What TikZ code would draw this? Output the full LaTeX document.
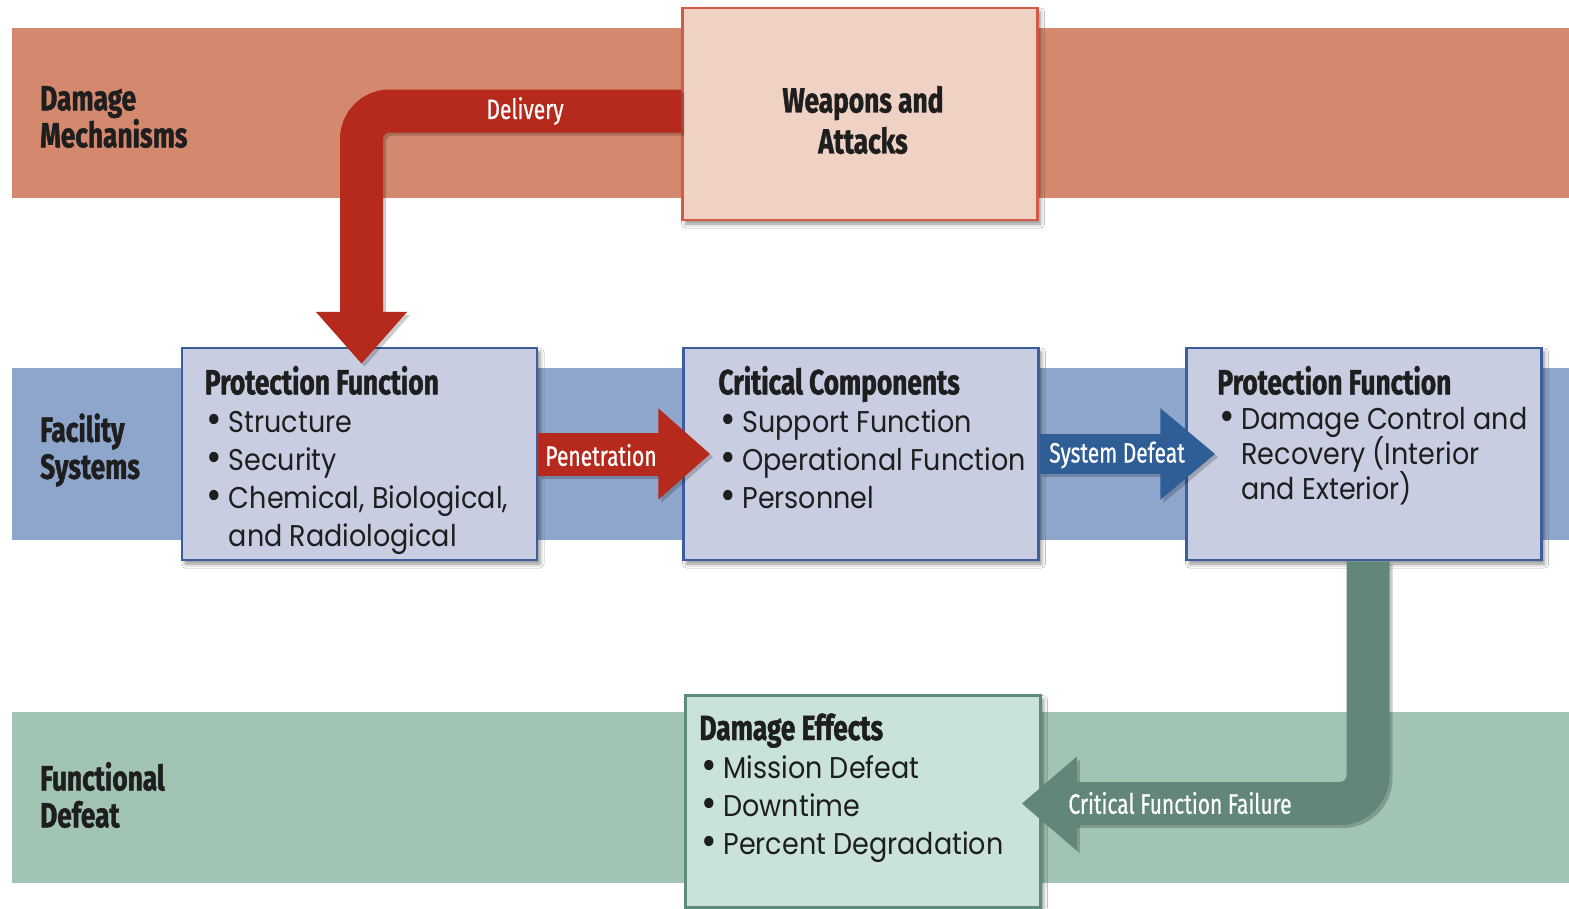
\documentclass[tikz,border=0pt]{standalone}
\usepackage{fontspec}
\setmainfont{Poppins}
\newfontfamily\hdfont[FakeStretch=0.75, BoldFeatures={FakeBold=1.2}]{Fira Sans}
\newfontfamily\lbfont[FakeStretch=0.75, FakeBold=0.6]{Fira Sans}
\newfontfamily\bdfont[FakeStretch=0.9]{Poppins}
\usetikzlibrary{arrows.meta,calc,shadows.blur}
\definecolor{redband}{HTML}{D4896F}
\definecolor{wfill}{HTML}{F0D2C4}
\definecolor{wbord}{HTML}{D35A45}
\definecolor{delred}{HTML}{B52A1C}
\definecolor{blueband}{HTML}{8FA6CC}
\definecolor{bfill}{HTML}{C8CDE2}
\definecolor{bbord}{HTML}{3C5E9C}
\definecolor{barrow}{HTML}{2F5D96}
\definecolor{greenband}{HTML}{A2C4B2}
\definecolor{gfill}{HTML}{CAE3DA}
\definecolor{gbord}{HTML}{5E8B7B}
\definecolor{garrow}{HTML}{62877A}
\definecolor{ink}{HTML}{1E1E1E}
\newcommand{\nolsl}{\lineskiplimit=-50pt\relax}
\newcommand{\bodyA}{\bdfont\fontsize{30}{38}\selectfont\nolsl}
\newcommand{\bodyB}{\bdfont\fontsize{30}{35}\selectfont\nolsl}
\tikzset{
  box/.style={draw, line width=2.5pt, minimum width=355pt, minimum height=212pt, inner sep=0pt,
    blur shadow={shadow xshift=3pt, shadow yshift=-4pt, shadow blur radius=4pt, shadow opacity=45}},
  redbox/.style={box, draw=wbord, fill=wfill},
  bluebox/.style={box, draw=bbord, fill=bfill},
  greenbox/.style={box, draw=gbord, fill=gfill},
  bul/.style={anchor=north west, align=left, inner sep=0pt, text=ink, font=\bodyA},
  side/.style={anchor=west, align=left, inner sep=0pt, text=ink, font=\hdfont\bfseries\fontsize{35}{37}\selectfont},
  fat/.style={line width=43pt},
  ashadow/.style={black, opacity=0.2, transform canvas={shift={(3pt,-3pt)}}},
  lbl/.style={text=white, inner sep=0pt, font=\lbfont\fontsize{28}{30}\selectfont},
}
\newcommand{\hd}[1]{{\hdfont\bfseries\fontsize{35}{38}\selectfont #1}}
\newcommand{\bl}{\makebox[24pt][l]{\hspace{2pt}\raisebox{-1.5pt}{\scalebox{1.4}{\textbullet}}}}
\newcommand{\blind}{\hspace*{24pt}}
\begin{document}
\begin{tikzpicture}[x=1pt,y=-1pt]
\useasboundingbox (0,0) rectangle (1569,908);
\fill[white] (0,0) rectangle (1569,908);
% bands
\fill[redband] (12,28) rectangle (1569,198);
\fill[blueband] (12,368) rectangle (1569,540);
\fill[greenband] (12,712) rectangle (1569,883);
% side labels
\node[side] (sdm) at (40,117) {Damage\\Mechanisms};
\node[side] (sfs) at (40,450) {Facility\\Systems};
\node[side] (sfd) at (40,795) {Functional\\Defeat};
% boxes
\node[redbox] (wa) at (860,114) {};
\node[bluebox] (pf1) at (359.5,454) {};
\node[bluebox] (cc) at (861,454) {};
\node[bluebox] (pf2) at (1364,454) {};
\node[greenbox] (de) at (863,801.5) {};
% box texts
\node[align=center, inner sep=0pt, text=ink, font=\hdfont\bfseries\fontsize{35}{41}\selectfont] (wat) at ($(wa.center)+(3,6)$) {Weapons and\\Attacks};
\node[bul] (pf1t) at ($(pf1.north west)+(24,19)$) {\hd{Protection Function}\\ \bl Structure\\ \bl Security\\ \bl Chemical, Biological,\\ \blind and Radiological};
\node[bul] (cct) at ($(cc.north west)+(36,19)$) {\hd{Critical Components}\\ \bl Support Function\\ \bl Operational Function\\ \bl Personnel};
\node[bul, font=\bodyB] (pf2t) at ($(pf2.north west)+(32,19)$) {\hd{Protection Function}\\ \bl Damage Control and\\ \blind Recovery (Interior\\ \blind and Exterior)};
\node[bul] (det) at ($(de.north west)+(15,19)$) {\hd{Damage Effects}\\ \bl Mission Defeat\\ \bl Downtime\\ \bl Percent Degradation};
% arrow shadows
\draw[fat, ashadow, rounded corners=28pt, -{Triangle[width=88pt,length=52pt]}] ($(wa.west)+(0,-3)$) -| ($(pf1.north)+(2,17)$);
\draw[fat, ashadow, -{Triangle[width=88pt,length=52pt]}] (pf1.east) -- ($(cc.west)+(28,0)$);
\draw[line width=40pt, ashadow, -{Triangle[width=88pt,length=55pt]}] (cc.east) -- ($(pf2.west)+(30,0)$);
\draw[fat, ashadow, rounded corners=28pt, -{Triangle[width=90pt,length=55pt]}] ($(pf2.south)+(4,0)$) |- ($(de.east)+(-20,2)$);
% arrows
\draw[fat, delred, rounded corners=28pt, -{Triangle[width=88pt,length=52pt]}] ($(wa.west)+(0,-3)$) -| ($(pf1.north)+(2,17)$);
\draw[fat, delred, -{Triangle[width=88pt,length=52pt]}] (pf1.east) -- ($(cc.west)+(28,0)$);
\draw[line width=40pt, barrow, -{Triangle[width=88pt,length=55pt]}] (cc.east) -- ($(pf2.west)+(30,0)$);
\draw[fat, garrow, rounded corners=28pt, -{Triangle[width=90pt,length=55pt]}] ($(pf2.south)+(4,0)$) |- ($(de.east)+(-20,2)$);
% arrow labels
\node[lbl] (ldel) at (525,111) {Delivery};
\node[lbl] (lpen) at (601,455) {Penetration};
\node[lbl] (lsys) at (1117,455) {System Defeat};
\node[lbl] (lcff) at (1180,803) {Critical Function Failure};
\end{tikzpicture}
\end{document}
